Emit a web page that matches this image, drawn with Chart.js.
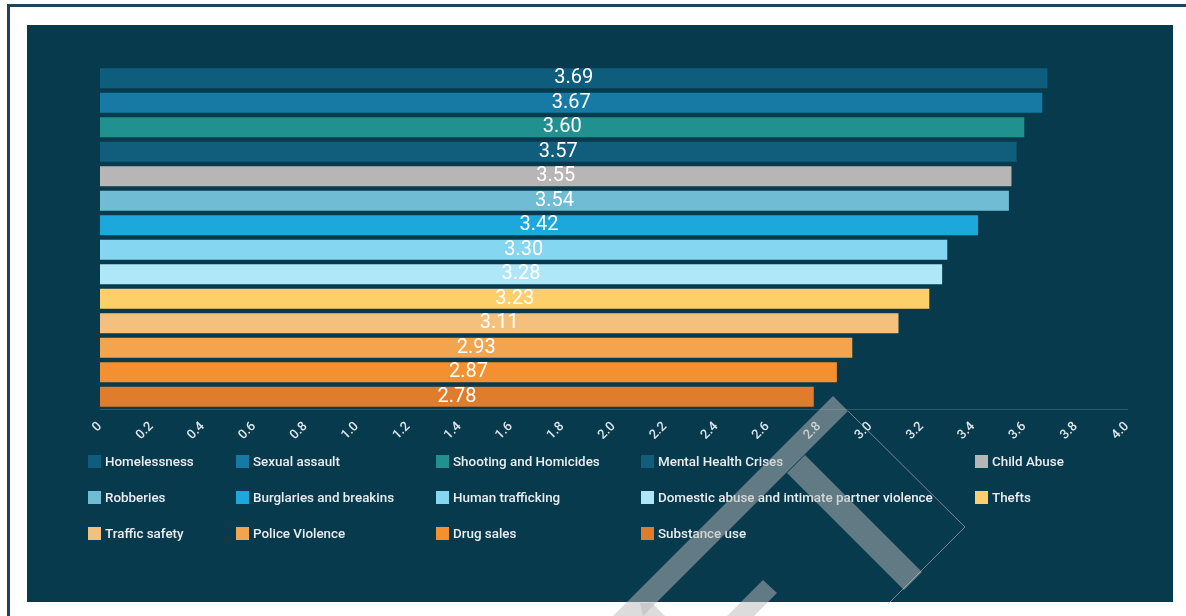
<!DOCTYPE html>
<html>
<head>
<meta charset="utf-8">
<script src="https://cdn.jsdelivr.net/npm/chart.js@4"></script>
<style>
  html, body { margin: 0; padding: 0; background: #ffffff; }
  body { width: 1186px; height: 616px; position: relative; overflow: hidden; font-family: Roboto, "Noto Sans", sans-serif; }
  #frame { position: absolute; left: 7px; top: 4px; width: 1300px; height: 700px;
           border-left: 3px solid #1f4457; border-top: 3px solid #1f4457; box-sizing: border-box; }
  #panel { position: absolute; left: 27px; top: 25px; width: 1146px; height: 577px; background: #083a4e; }
  #wrap { position: absolute; left: 0; top: 0; width: 1146px; height: 440px; }
  #legend { position: absolute; left: 0; top: 0; width: 1146px; height: 577px; pointer-events: none; }
  .item { position: absolute; display: flex; align-items: center; height: 16px; white-space: nowrap;
          color: #e9eef1; font-size: 13.4px; font-weight: 500; }
  .box { width: 13px; height: 13px; margin-right: 4px; flex: none; }
  #mark { position: absolute; left: 0; top: 0; width: 1186px; height: 616px; pointer-events: none; }
</style>
</head>
<body>
<div id="frame"></div>
<div id="panel">
  <div id="wrap"><canvas id="chart"></canvas></div>
  <div id="legend"></div>
</div>
<svg id="mark" width="1186" height="616" viewBox="0 0 1186 616">
  <g fill="rgba(185,185,185,0.5)">
    <polygon points="833,396 848,411 643,616 613,616"/>
    <polygon points="805,455 922,572 904,590 787,473"/>
    <polygon points="763,580 777,593 754,616 727,616"/>
    <polygon points="640,603 652,603 665,616 643,616"/>
  </g>
  <polyline points="848,411 965,527 888,604" fill="none" stroke="rgba(200,200,200,0.55)" stroke-width="1"/>
</svg>

<script>
// Survey results: average concern rating per issue
const categories = [
  "Homelessness", "Sexual assault", "Shooting and Homicides", "Mental Health Crises",
  "Child Abuse", "Robberies", "Burglaries and breakins", "Human trafficking",
  "Domestic abuse and intimate partner violence", "Thefts", "Traffic safety",
  "Police Violence", "Drug sales", "Substance use"
];
const ratings = [3.69, 3.67, 3.60, 3.57, 3.55, 3.54, 3.42, 3.30, 3.28, 3.23, 3.11, 2.93, 2.87, 2.78];
const colors = [
  "#0e5d7d", "#167aa4", "#21918f", "#105e7b", "#b7b5b5", "#71bcd5", "#1ca8dd",
  "#84d6f1", "#b0e7f8", "#fccf6b", "#f4c07e", "#f2a54e", "#f4902f", "#df7d2c"
];
const tickValues = [0, 0.2, 0.4, 0.6, 0.8, 1.0, 1.2, 1.4, 1.6, 1.8, 2.0, 2.2, 2.4, 2.6, 2.8, 3.0, 3.2, 3.4, 3.6, 3.8, 4.0];

// One dataset per issue so each gets its own legend entry and colour
const datasets = categories.map((name, i) => ({
  label: name,
  data: [ratings[i]],
  backgroundColor: colors[i],
  borderWidth: 0,
  categoryPercentage: 1.0,
  barPercentage: 0.82
}));

// Writes each bar's value in the middle of the bar
const valueLabels = {
  id: "valueLabels",
  afterDatasetsDraw(chart) {
    const ctx = chart.ctx;
    ctx.save();
    ctx.font = "20px Roboto, 'Noto Sans', sans-serif";
    ctx.fillStyle = "#ffffff";
    ctx.textAlign = "center";
    ctx.textBaseline = "middle";
    chart.data.datasets.forEach((ds, i) => {
      const bar = chart.getDatasetMeta(i).data[0];
      if (!bar) return;
      ctx.fillText(ds.data[0].toFixed(2), (bar.x + bar.base) / 2, bar.y);
    });
    ctx.restore();
  }
};

const chart = new Chart(document.getElementById("chart"), {
  type: "bar",
  data: { labels: [""], datasets },
  options: {
    indexAxis: "y",
    responsive: true,
    maintainAspectRatio: false,
    animation: false,
    layout: { padding: { left: 73, right: 46, top: 41, bottom: 26 } },
    plugins: { legend: { display: false }, tooltip: { enabled: false } },
    scales: {
      x: {
        min: 0,
        max: 4,
        afterBuildTicks(scale) { scale.ticks = tickValues.map(v => ({ value: v })); },
        afterFit(scale) { scale.height = 30; },
        grid: { display: false },
        border: { display: true, color: "#2c5a6d", width: 1 },
        ticks: {
          color: "#dde5e9",
          font: { family: "Roboto, 'Noto Sans', sans-serif", size: 13, weight: 500 },
          minRotation: 45,
          maxRotation: 45,
          padding: 2,
          callback: v => (v === 0 ? "0" : Number(v).toFixed(1))
        }
      },
      y: { display: false }
    }
  },
  plugins: [valueLabels]
});

// Legend laid out as a five-column grid under the axis
const colX = [61, 209, 409, 614, 948];
const rowY = [428, 464, 500];
const legend = document.getElementById("legend");
categories.forEach((name, i) => {
  const item = document.createElement("div");
  item.className = "item";
  item.style.left = colX[i % 5] + "px";
  item.style.top = rowY[Math.floor(i / 5)] + "px";
  const box = document.createElement("span");
  box.className = "box";
  box.style.background = colors[i];
  const txt = document.createElement("span");
  txt.textContent = name;
  item.appendChild(box);
  item.appendChild(txt);
  legend.appendChild(item);
});
</script>
</body>
</html>
